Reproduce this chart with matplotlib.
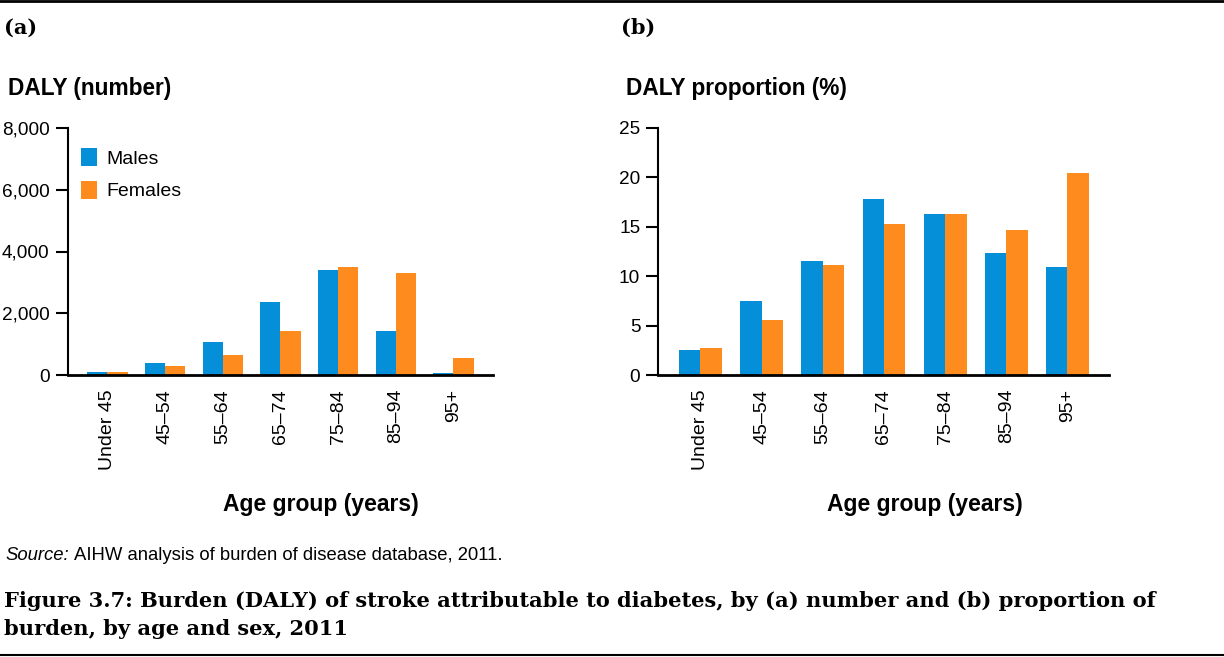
import numpy as np
import matplotlib.pyplot as plt
from matplotlib.lines import Line2D
from matplotlib.ticker import FuncFormatter

plt.rcParams['font.family'] = ['Liberation Sans', 'DejaVu Sans']

ages = ['Under 45', '45\u201354', '55\u201364', '65\u201374', '75\u201384', '85\u201394', '95+']

# (a) DALY number
males_n = [85, 390, 1065, 2360, 3395, 1425, 65]
females_n = [85, 290, 645, 1425, 3495, 3300, 550]

# (b) DALY proportion (%)
males_p = [2.55, 7.5, 11.5, 17.8, 16.25, 12.3, 10.9]
females_p = [2.75, 5.6, 11.1, 15.25, 16.25, 14.65, 20.4]

blue = '#058fd8'
orange = '#fd8b1d'

fig = plt.figure(figsize=(12.24, 6.57), dpi=100)
W, H = 1224, 657

def px(x, y):
    return x / W, 1 - y / H

def panel(rect, m, f, ymax, step, fmt):
    ax = fig.add_axes(rect)
    x = np.arange(len(ages))
    w = 0.35
    ax.bar(x - w / 2, m, w, color=blue, label='Males')
    ax.bar(x + w / 2, f, w, color=orange, label='Females')
    ax.set_xlim(-0.69, len(ages) - 1 + 0.68)
    ax.set_ylim(0, ymax)
    ax.set_yticks(np.arange(0, ymax + 1, step))
    ax.yaxis.set_major_formatter(FuncFormatter(fmt))
    ax.set_xticks(x)
    ax.set_xticklabels(ages, rotation=90, fontsize=14)
    ax.tick_params(axis='x', length=0, pad=10)
    ax.tick_params(axis='y', length=9, width=1.5, labelsize=13.7, pad=4)
    for s in ['top', 'right']:
        ax.spines[s].set_visible(False)
    ax.spines['left'].set_linewidth(1.5)
    ax.spines['bottom'].set_linewidth(2)
    return ax

l, t = px(67.7, 128)
r, b = px(492.7, 375)
ax1 = panel([l, b, r - l, t - b], males_n, females_n, 8000, 2000,
            lambda v, p: f'{int(v):,}')
ax1.legend(loc='upper left', bbox_to_anchor=(-0.01, 0.99), frameon=False,
           fontsize=14, handlelength=0.8, handleheight=1.05,
           handletextpad=0.5, labelspacing=0.68)

l, t = px(658.3, 128)
r, b = px(1109, 375)
ax2 = panel([l, b, r - l, t - b], males_p, females_p, 25, 5,
            lambda v, p: f'{int(v)}')

bold = dict(fontweight='bold', va='center')
fig.text(*px(8, 88), 'DALY (number)', ha='left', fontsize=16.3, **bold)
fig.text(*px(626, 88), 'DALY proportion (%)', ha='left', fontsize=16.3, **bold)
fig.text(*px(321, 505), 'Age group (years)', ha='center', fontsize=16.5, **bold)
fig.text(*px(925, 505), 'Age group (years)', ha='center', fontsize=16.5, **bold)

serif = ['DejaVu Serif']
fig.text(*px(4, 28), '(a)', ha='left', va='center', fontsize=15,
         fontweight='bold', family=serif)
fig.text(*px(621, 28), '(b)', ha='left', va='center', fontsize=15,
         fontweight='bold', family=serif)

src = fig.text(*px(5, 555), 'Source:', ha='left', va='center',
               fontsize=13.3, style='italic')
fig.canvas.draw()
bb = src.get_window_extent()
fig.text(bb.x1 / W + 5 / W, 1 - 555 / H,
         'AIHW analysis of burden of disease database, 2011.',
         ha='left', va='center', fontsize=13.3)

fig.text(*px(4, 615), 'Figure 3.7: Burden (DALY) of stroke attributable to diabetes, '
         'by (a) number and (b) proportion of\nburden, by age and sex, 2011',
         ha='left', va='center', fontsize=15.1, fontweight='bold', family=serif,
         linespacing=1.45)

fig.add_artist(Line2D([0, 1], [1 - 1 / H, 1 - 1 / H], color='black', lw=2))
fig.add_artist(Line2D([0, 1], [1 - 655 / H, 1 - 655 / H], color='black', lw=1.5))

fig.savefig('out.png', dpi=100)
